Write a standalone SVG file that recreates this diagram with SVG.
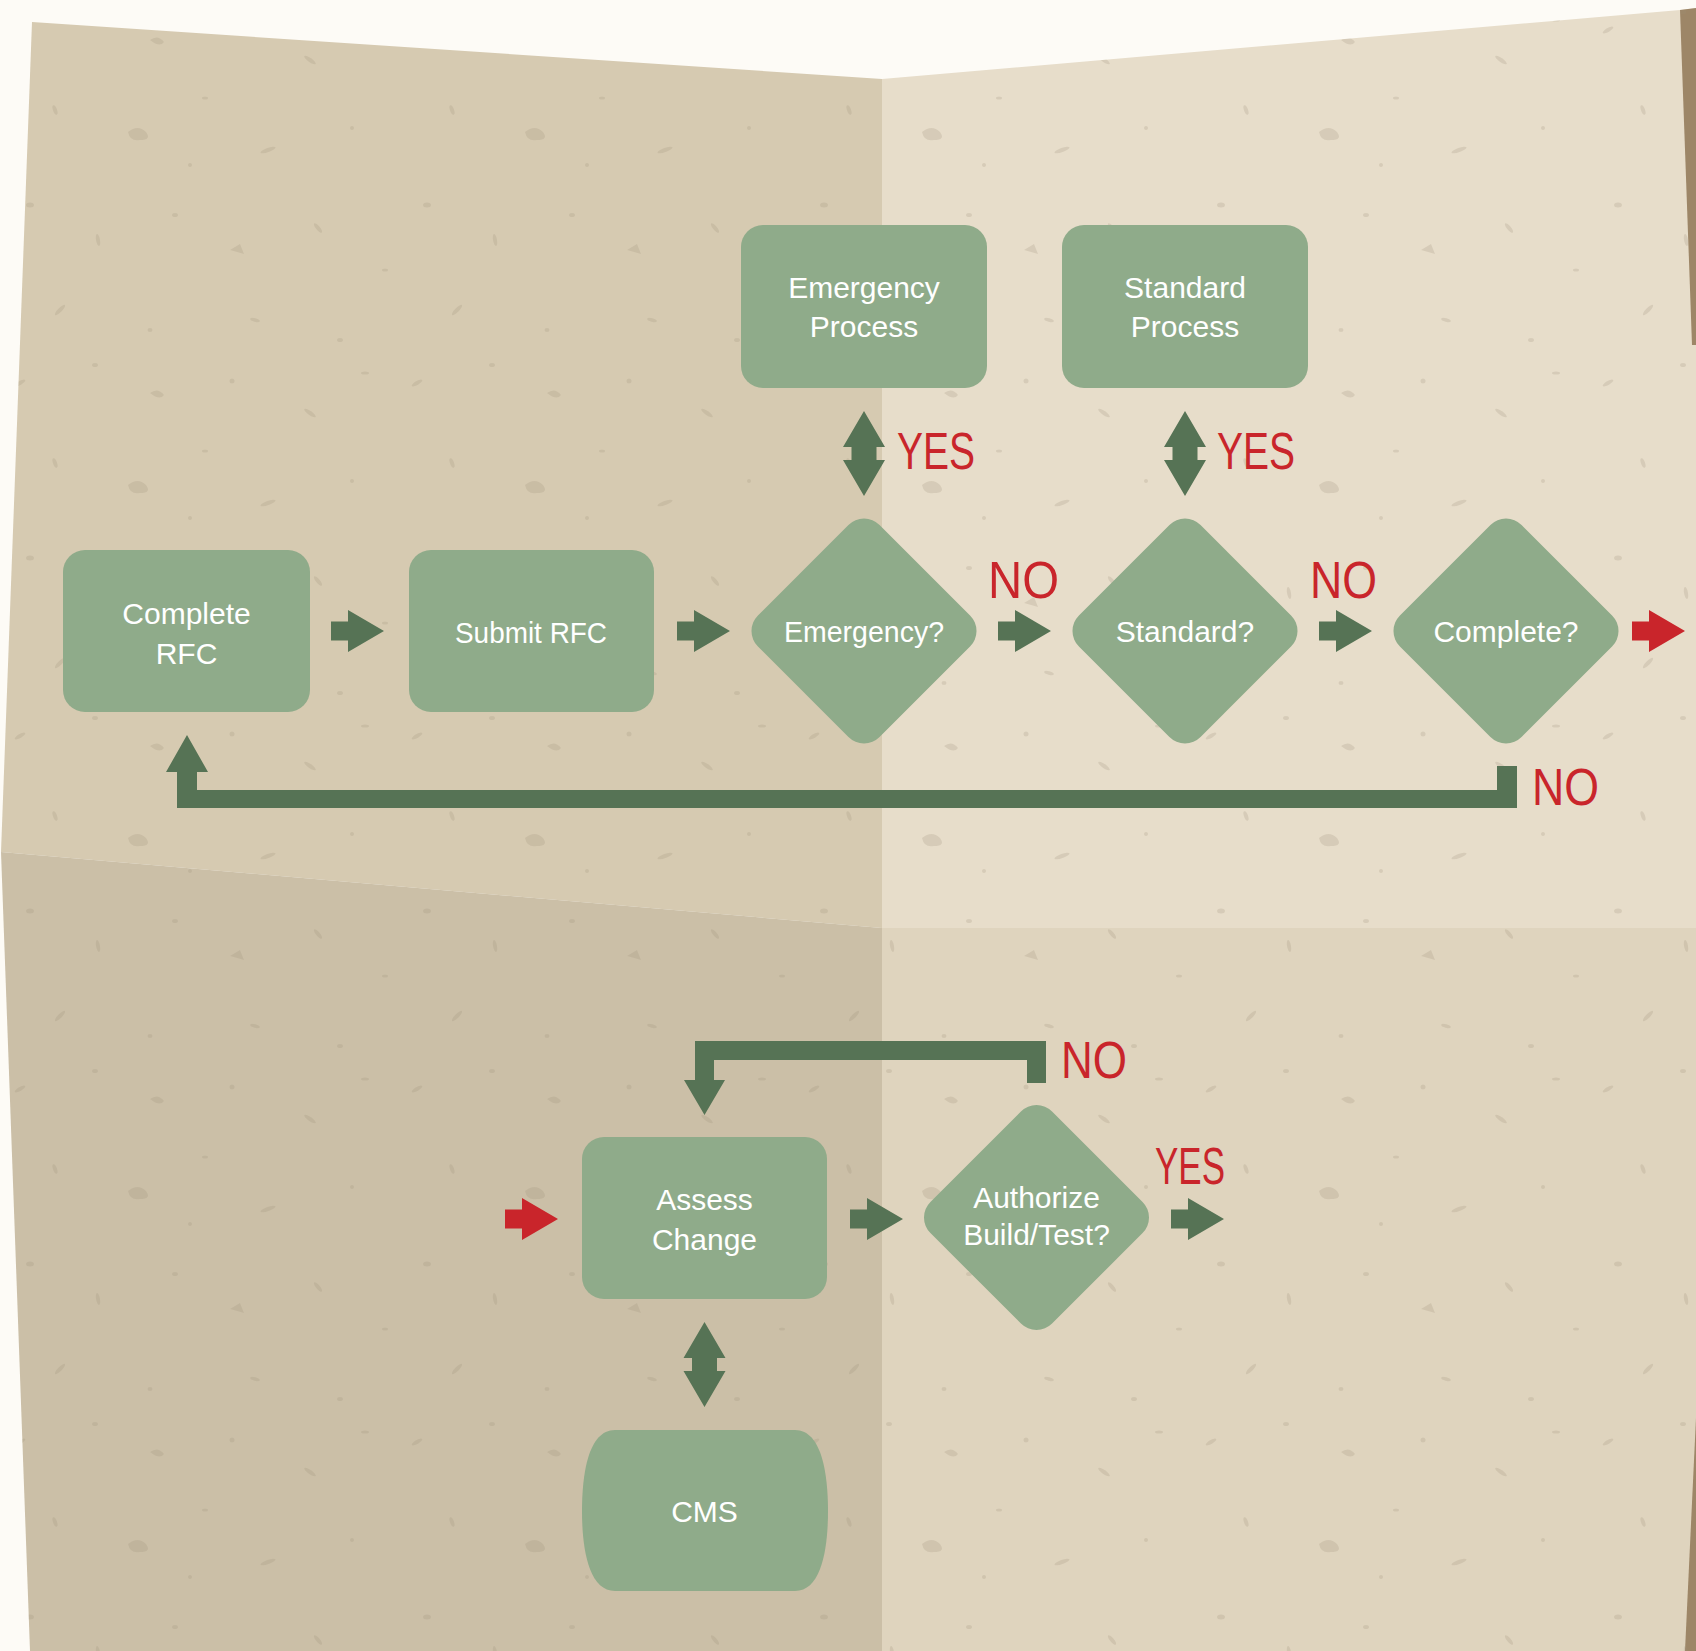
<svg xmlns="http://www.w3.org/2000/svg" xmlns:xlink="http://www.w3.org/1999/xlink" width="1696" height="1651" viewBox="0 0 1696 1651">
  <style>
    .node { fill: #8fab8a; }
    .lbl { font-family: "Liberation Sans", Arial, sans-serif; font-size: 30px; fill: #ffffff; text-anchor: middle; }
    .ans { font-family: "Liberation Sans", Arial, sans-serif; font-size: 51px; fill: #c9252b; }
    .conn { fill: #567355; }
    .red { fill: #c9252b; }
  </style>
  <defs>
    <path id="arr" d="M0,-9.5 H17 V-21 L53,0 L17,21 V9.5 H0 Z"/>
    <path id="darr" d="M0,-42.5 L21,-6.5 H12.5 V6.5 H21 L0,42.5 L-21,6.5 H-12.5 V-6.5 H-21 Z"/>
    <pattern id="speck" width="397" height="353" patternUnits="userSpaceOnUse">
      <g fill="#9c8e74" fill-opacity="0.22">
        <ellipse cx="20" cy="30" rx="6" ry="2" transform="rotate(-30 20 30)"/>
        <ellipse cx="95" cy="12" rx="3" ry="2"/>
        <path d="M150,40 q8,-6 14,2 q-4,6 -14,-2 Z"/>
        <ellipse cx="232" cy="28" rx="2.5" ry="2.5"/>
        <ellipse cx="310" cy="60" rx="7" ry="2" transform="rotate(35 310 60)"/>
        <ellipse cx="365" cy="20" rx="4" ry="1.5"/>
        <ellipse cx="55" cy="110" rx="5" ry="2" transform="rotate(70 55 110)"/>
        <path d="M128,132 q10,-8 18,0 q6,8 -6,8 q-10,2 -12,-8 Z"/>
        <ellipse cx="205" cy="98" rx="3" ry="1.5"/>
        <ellipse cx="268" cy="150" rx="8" ry="2" transform="rotate(-20 268 150)"/>
        <ellipse cx="352" cy="128" rx="2" ry="2"/>
        <ellipse cx="30" cy="205" rx="4" ry="2.5"/>
        <ellipse cx="98" cy="240" rx="6" ry="2" transform="rotate(80 98 240)"/>
        <ellipse cx="175" cy="215" rx="3" ry="2"/>
        <path d="M230,250 l10,-6 l4,10 Z"/>
        <ellipse cx="318" cy="228" rx="6" ry="2" transform="rotate(50 318 228)"/>
        <ellipse cx="385" cy="270" rx="3" ry="1.5"/>
        <ellipse cx="60" cy="310" rx="7" ry="2" transform="rotate(-45 60 310)"/>
        <ellipse cx="150" cy="330" rx="2.5" ry="2"/>
        <ellipse cx="255" cy="320" rx="5" ry="1.8" transform="rotate(15 255 320)"/>
        <ellipse cx="340" cy="340" rx="3" ry="2"/>
        <ellipse cx="190" cy="165" rx="2" ry="2"/>
      </g>
    </pattern>
  </defs>

  <g id="background">
    <rect x="0" y="0" width="1696" height="1651" fill="#fdfbf6"/>
    <polygon points="32,22 882,79 882,928 1,852" fill="#d6cab1"/>
    <polygon points="882,79 1680,10 1696,8 1696,928 882,928" fill="#e7ddca"/>
    <polygon points="1,852 882,928 882,1651 30,1651" fill="#cbbfa7"/>
    <polygon points="882,928 1696,928 1696,1651 882,1651" fill="#dfd4be"/>
    <polygon points="1680,10 1696,8 1696,345 1692,345" fill="#9d8667"/>
    <polygon points="1696,1418 1696,1651 1685,1651" fill="#9d8667"/>
    <polygon points="32,22 882,79 1680,10 1696,8 1696,1651 30,1651 1,852" fill="url(#speck)"/>
  </g>

  <g id="connectors">
    <use href="#arr" class="conn" x="331" y="631"/>
    <use href="#arr" class="conn" x="677" y="631"/>
    <use href="#arr" class="conn" x="998" y="631"/>
    <use href="#arr" class="conn" x="1319" y="631"/>
    <use href="#arr" class="red" x="1632" y="631"/>
    <use href="#darr" class="conn" x="864" y="453.5"/>
    <use href="#darr" class="conn" x="1185" y="453.5"/>
    <path class="conn" d="M1497,766 H1517 V808 H177 V772 H166 L187,735 L208,772 H197 V790 H1497 Z"/>
    <use href="#arr" class="red" x="505" y="1219"/>
    <use href="#arr" class="conn" x="850" y="1219"/>
    <use href="#arr" class="conn" x="1171" y="1219"/>
    <use href="#darr" class="conn" x="704.5" y="1364.5"/>
    <path class="conn" d="M1046,1041 V1083 H1027 V1060 H714 V1080 H725 L704.5,1115 L684,1080 H695 V1041 Z"/>
    <text class="ans" x="897" y="469" textLength="78" lengthAdjust="spacingAndGlyphs">YES</text>
    <text class="ans" x="1217" y="469" textLength="78" lengthAdjust="spacingAndGlyphs">YES</text>
    <text class="ans" x="988" y="598" textLength="71" lengthAdjust="spacingAndGlyphs">NO</text>
    <text class="ans" x="1310" y="598" textLength="67" lengthAdjust="spacingAndGlyphs">NO</text>
    <text class="ans" x="1532" y="805" textLength="67" lengthAdjust="spacingAndGlyphs">NO</text>
    <text class="ans" x="1061" y="1078" textLength="66" lengthAdjust="spacingAndGlyphs">NO</text>
    <text class="ans" x="1155" y="1184" textLength="70" lengthAdjust="spacingAndGlyphs">YES</text>
  </g>

  <g id="node-complete-rfc">
    <rect class="node" x="63" y="550" width="247" height="162" rx="22"/>
    <text class="lbl" x="186.5" y="624">Complete</text>
    <text class="lbl" x="186.5" y="664">RFC</text>
  </g>
  <g id="node-submit-rfc">
    <rect class="node" x="409" y="550" width="245" height="162" rx="22"/>
    <text class="lbl" x="531" y="643" textLength="152" lengthAdjust="spacingAndGlyphs">Submit RFC</text>
  </g>
  <g id="node-emergency-process">
    <rect class="node" x="741" y="225" width="246" height="163" rx="22"/>
    <text class="lbl" x="864" y="298">Emergency</text>
    <text class="lbl" x="864" y="337">Process</text>
  </g>
  <g id="node-standard-process">
    <rect class="node" x="1062" y="225" width="246" height="163" rx="22"/>
    <text class="lbl" x="1185" y="298">Standard</text>
    <text class="lbl" x="1185" y="337">Process</text>
  </g>
  <g id="node-emergency-q">
    <rect class="node" x="-86" y="-86" width="172" height="172" rx="22" transform="translate(864 631) rotate(45)"/>
    <text class="lbl" x="864" y="642" textLength="160" lengthAdjust="spacingAndGlyphs">Emergency?</text>
  </g>
  <g id="node-standard-q">
    <rect class="node" x="-86" y="-86" width="172" height="172" rx="22" transform="translate(1185 631) rotate(45)"/>
    <text class="lbl" x="1185" y="642">Standard?</text>
  </g>
  <g id="node-complete-q">
    <rect class="node" x="-86" y="-86" width="172" height="172" rx="22" transform="translate(1506 631) rotate(45)"/>
    <text class="lbl" x="1506" y="642">Complete?</text>
  </g>
  <g id="node-assess-change">
    <rect class="node" x="582" y="1137" width="245" height="162" rx="22"/>
    <text class="lbl" x="704.5" y="1210">Assess</text>
    <text class="lbl" x="704.5" y="1250">Change</text>
  </g>
  <g id="node-authorize">
    <rect class="node" x="-86" y="-86" width="172" height="172" rx="22" transform="translate(1036.5 1217.5) rotate(45)"/>
    <text class="lbl" x="1036.5" y="1208">Authorize</text>
    <text class="lbl" x="1036.5" y="1245">Build/Test?</text>
  </g>
  <g id="node-cms">
    <path class="node" d="M615,1430 H795 C822,1430 828,1475 828,1511 C828,1547 822,1591 795,1591 H615 C588,1591 582,1547 582,1511 C582,1475 588,1430 615,1430 Z"/>
    <text class="lbl" x="704.5" y="1522">CMS</text>
  </g>
</svg>
